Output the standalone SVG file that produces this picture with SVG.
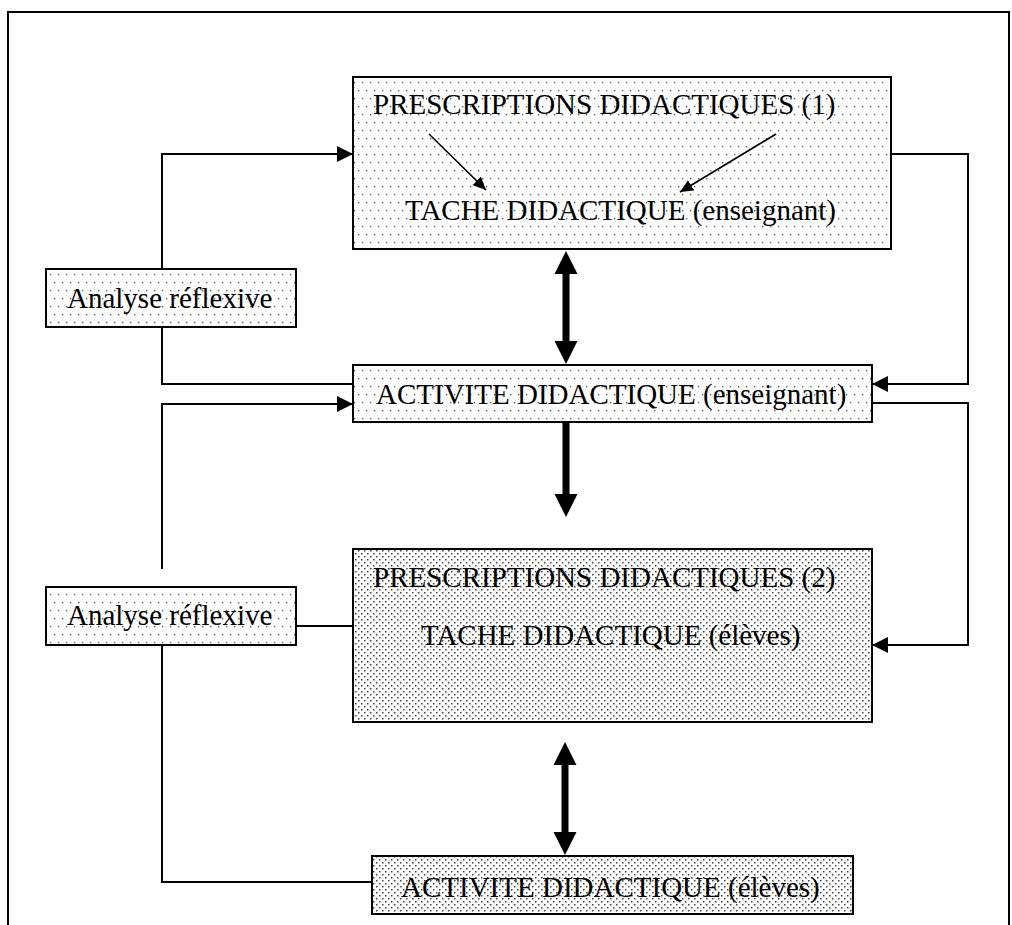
<svg xmlns="http://www.w3.org/2000/svg" width="1012" height="925" viewBox="0 0 1012 925">
<style>
.lbl{font-family:"Liberation Serif","Times New Roman",serif;font-size:29px;fill:#000}
.box{stroke:#000;stroke-width:2}
.light{fill:url(#dotsLight)}
.dense{fill:url(#dotsDense)}
.con{fill:none;stroke:#000;stroke-width:2}
.thin{fill:none;stroke:#000;stroke-width:1.6}
.thick{fill:#000;stroke:none}
</style>
<defs>
<pattern id="dotsLight" x="0" y="0" width="8" height="16" patternUnits="userSpaceOnUse">
<rect width="8" height="16" fill="#fff"/>
<rect x="2" y="2" width="1.3" height="1.3" fill="#555"/>
<rect x="6" y="10" width="1.3" height="1.3" fill="#555"/>
</pattern>
<pattern id="dotsDense" x="0" y="0" width="6" height="6" patternUnits="userSpaceOnUse">
<rect width="6" height="6" fill="#fff"/>
<rect x="1" y="1" width="1.5" height="1.5" fill="#444"/>
<rect x="4" y="4" width="1.5" height="1.5" fill="#444"/>
</pattern>
<marker id="arr" markerUnits="userSpaceOnUse" markerWidth="17" markerHeight="16" refX="16" refY="8" orient="auto">
<path d="M0,0 L16,8 L0,16 Z" fill="#000"/>
</marker>
<marker id="arrS" markerUnits="userSpaceOnUse" markerWidth="14" markerHeight="12" refX="13" refY="6" orient="auto">
<path d="M0,0 L13,6 L0,12 Z" fill="#000"/>
</marker>
</defs>

<path id="frame" d="M8,925 V12 H1009 V925" fill="none" stroke="#000" stroke-width="2"/>

<g id="connectors">
<path class="con" d="M162,269 V154 H353" marker-end="url(#arr)"/>
<path class="con" d="M162,327 V384 H353"/>
<path class="con" d="M162,569 V404 H353" marker-end="url(#arr)"/>
<path class="con" d="M296,626 H353"/>
<path class="con" d="M162,645 V882 H372"/>
<path class="con" d="M891,154 H968 V384 H872" marker-end="url(#arr)"/>
<path class="con" d="M872,403 H968 V645 H872" marker-end="url(#arr)"/>
<polygon class="thick" points="566,251 577.5,274 569.5,274 569.5,341 577.5,341 566,364 554.5,341 562.5,341 562.5,274 554.5,274"/>
<polygon class="thick" points="562.5,422 569.5,422 569.5,494 577.5,494 566,517 554.5,494 562.5,494"/>
<polygon class="thick" points="565,742 576.5,765 568.5,765 568.5,832 576.5,832 565,855 553.5,832 561.5,832 561.5,765 553.5,765"/>
</g>

<g id="node-prescriptions1">
<rect class="box light" x="353" y="77" width="538" height="172"/>
<text class="lbl" x="373" y="114">PRESCRIPTIONS DIDACTIQUES (1)</text>
<text class="lbl" x="405" y="220">TACHE DIDACTIQUE (enseignant)</text>
<path class="thin" d="M429,134 L486,190" marker-end="url(#arrS)"/>
<path class="thin" d="M776,134 L680,192" marker-end="url(#arrS)"/>
</g>

<g id="node-analyse1">
<rect class="box light" x="46" y="269" width="250" height="58"/>
<text class="lbl" x="67" y="308">Analyse réflexive</text>
</g>

<g id="node-activite-ens">
<rect class="box light" x="353" y="365" width="519" height="57"/>
<text class="lbl" x="376" y="404">ACTIVITE DIDACTIQUE (enseignant)</text>
</g>

<g id="node-analyse2">
<rect class="box light" x="46" y="587" width="250" height="58"/>
<text class="lbl" x="67" y="625">Analyse réflexive</text>
</g>

<g id="node-prescriptions2">
<rect class="box dense" x="353" y="549" width="519" height="173"/>
<text class="lbl" x="373" y="587">PRESCRIPTIONS DIDACTIQUES (2)</text>
<text class="lbl" x="421" y="645">TACHE DIDACTIQUE (élèves)</text>
</g>

<g id="node-activite-el">
<rect class="box dense" x="372" y="856" width="481" height="58"/>
<text class="lbl" x="401" y="897">ACTIVITE DIDACTIQUE (élèves)</text>
</g>
</svg>
